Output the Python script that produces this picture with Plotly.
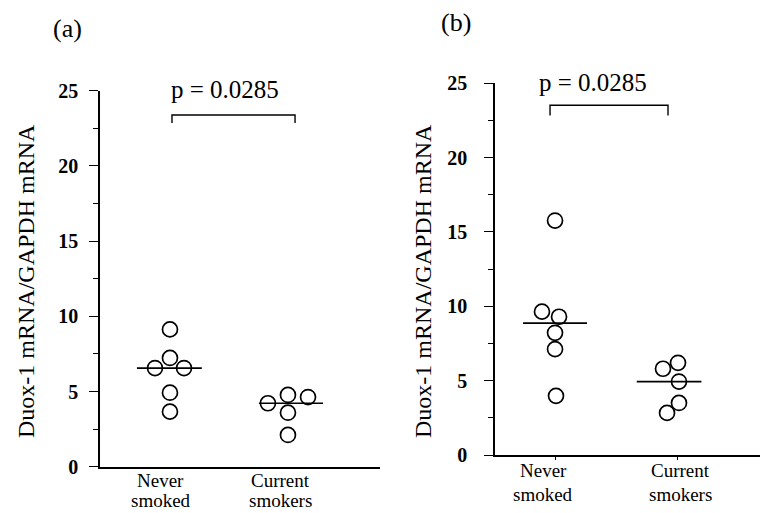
import plotly.graph_objects as go

# ---------------- data ----------------
categories = ["Never<br>smoked", "Current<br>smokers"]
cat_pos = [1, 2]
y_ticks = [0, 5, 10, 15, 20, 25]

a_never = [9.13, 7.23, 6.56, 6.56, 4.92, 3.66]
a_current = [4.22, 4.77, 4.63, 3.59, 2.11]
a_medians = [6.55, 4.22]

b_never = [15.77, 9.64, 9.30, 8.22, 7.12, 3.98]
b_current = [6.20, 5.80, 4.94, 3.50, 2.83]
b_medians = [8.87, 4.94]

p_label = "p = 0.0285"
y_title = "Duox-1 mRNA/GAPDH mRNA"

# ---------------- layout helpers (positions / styles) ----------------
a_never_dx = [0, 0, -0.127, 0.119, 0, 0]
a_current_dx = [-0.17, 0, 0.17, 0, 0]
b_never_dx = [0, -0.107, 0.033, 0, 0, 0.008]
b_current_dx = [0.008, -0.115, 0.016, 0.016, -0.082]
a_median_span = [(-0.28, 0.27), (-0.246, 0.297)]
b_median_span = [(-0.262, 0.262), (-0.33, 0.2)]
a_label_shift = [-9, -7]
b_label_shift = [-12, 3]

FONT = "Liberation Serif"
W, H = 760, 513

fig = go.Figure()


def add_panel(xa, ya, never, never_dx, current, current_dx, medians, spans):
    groups = [(never, never_dx), (current, current_dx)]
    for ci, (vals, dx) in enumerate(groups):
        fig.add_trace(go.Scatter(
            x=[cat_pos[ci] + d for d in dx], y=vals, mode="markers",
            marker=dict(symbol="circle-open", size=15, color="black",
                        line=dict(width=1.7, color="black")),
            xaxis=xa, yaxis=ya, showlegend=False, cliponaxis=False))
        lo, hi = spans[ci]
        fig.add_trace(go.Scatter(
            x=[cat_pos[ci] + lo, cat_pos[ci] + hi],
            y=[medians[ci], medians[ci]], mode="lines",
            line=dict(color="black", width=1.7),
            xaxis=xa, yaxis=ya, showlegend=False))


add_panel("x", "y", a_never, a_never_dx, a_current, a_current_dx, a_medians, a_median_span)
add_panel("x2", "y2", b_never, b_never_dx, b_current, b_current_dx, b_medians, b_median_span)


def px_x(p):
    return p / W


def px_y(p):
    return 1 - p / H


xcommon = dict(showline=True, linecolor="black", linewidth=1.7, showgrid=False,
               zeroline=False, tickvals=cat_pos, showticklabels=False, automargin=False,
               fixedrange=True)
ycommon = dict(showline=True, linecolor="black", linewidth=1.7, showgrid=False,
               zeroline=False, range=[0, 25], tickvals=y_ticks, ticks="outside",
               ticklen=9, tickwidth=1.4, tickcolor="black", automargin=False,
               minor=dict(dtick=2.5, tick0=0, ticks="outside", ticklen=5,
                          tickwidth=1.4, tickcolor="black", showgrid=False),
               tickfont=dict(family=FONT, size=20, color="black", weight="bold"),
               fixedrange=True)

fig.update_layout(
    width=W, height=H, margin=dict(l=0, r=0, t=0, b=0, autoexpand=False),
    paper_bgcolor="white", plot_bgcolor="white", showlegend=False,
    xaxis=dict(domain=[px_x(100), px_x(380)], range=[0.407, 2.78], anchor="y",
               ticks="", **xcommon),
    yaxis=dict(domain=[px_y(466.7), px_y(90.7)], anchor="x",
               ticklabelstandoff=7, **ycommon),
    xaxis2=dict(domain=[px_x(495), 1.0], range=[0.508, 2.68], anchor="y2",
                ticks="outside", ticklen=3, tickcolor="black", **xcommon),
    yaxis2=dict(domain=[px_y(455), px_y(83.3)], anchor="x2",
                ticklabelstandoff=13, **ycommon),
)

# significance brackets
brackets = [("x", "y", 1.017, 2.06, 22.85, 23.38), ("x2", "y2", 0.959, 1.926, 22.84, 23.52)]
for xr, yr, x0, x1, yl, yt in brackets:
    fig.add_shape(type="path", xref=xr, yref=yr,
                  path=f"M {x0} {yl} L {x0} {yt} L {x1} {yt} L {x1} {yl}",
                  line=dict(color="black", width=1.4))

ann = []
# category labels placed on the x axes' scales (one annotation per text line)
for xr, line_y, shifts in [("x", (480, 500), a_label_shift), ("x2", (470, 494), b_label_shift)]:
    for pos, lab, sh in zip(cat_pos, categories, shifts):
        for li, part in enumerate(lab.split("<br>")):
            ann.append(dict(text=part, x=pos, y=px_y(line_y[li]), xref=xr, yref="paper",
                            xshift=sh, showarrow=False, xanchor="center", yanchor="middle",
                            font=dict(family=FONT, size=19, color="black")))
for txt, x, y in [("(a)", 67, 28), ("(b)", 456, 22)]:
    ann.append(dict(text=txt, x=px_x(x), y=px_y(y), xref="paper", yref="paper",
                    showarrow=False, xanchor="center", yanchor="middle",
                    font=dict(family=FONT, size=26, color="black")))
for x, y in [(225, 89), (593, 82)]:
    ann.append(dict(text=p_label, x=px_x(x), y=px_y(y), xref="paper", yref="paper",
                    showarrow=False, xanchor="center", yanchor="middle",
                    font=dict(family=FONT, size=25, color="black")))
for x, y in [(26, 281), (423, 281)]:
    ann.append(dict(text=y_title, x=px_x(x), y=px_y(y), xref="paper", yref="paper",
                    showarrow=False, xanchor="center", yanchor="middle", textangle=-90,
                    font=dict(family=FONT, size=24, color="black")))
fig.update_layout(annotations=ann)

fig.write_html("out.html")
